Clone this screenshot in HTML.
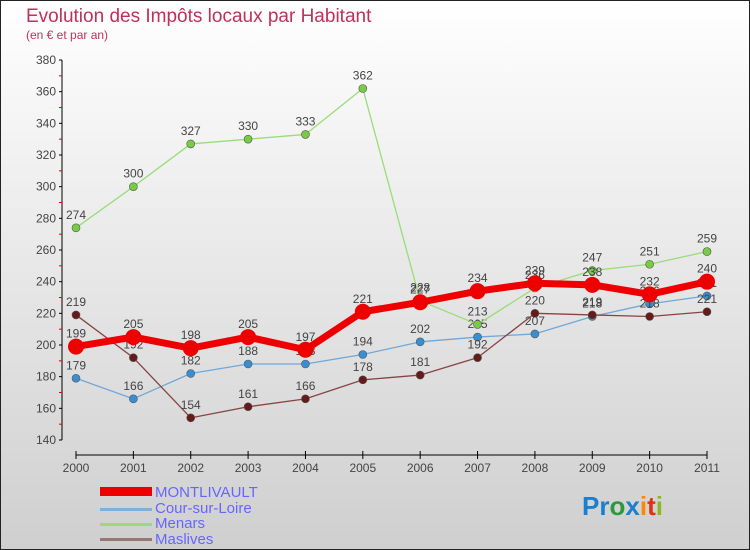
<!DOCTYPE html>
<html><head><meta charset="utf-8"><style>
body{margin:0;width:750px;height:550px;overflow:hidden}
svg{display:block;font-family:"Liberation Sans",sans-serif}
</style></head><body>
<svg id="c" width="750" height="550">
<defs><linearGradient id="bg" x1="0" y1="0" x2="0" y2="1"><stop offset="0" stop-color="#ffffff"/><stop offset="1" stop-color="#cfcfcf"/></linearGradient></defs>
<rect x="0.5" y="0.5" width="749" height="549" fill="url(#bg)" stroke="#222"/>
<text x="26" y="22" font-size="19" fill="#c0305a">Evolution des Impôts locaux par Habitant</text>
<text x="26" y="39" font-size="12" fill="#c0305a">(en € et par an)</text>
<g id="axes"></g><g id="series"></g>
<g>
<rect x="100" y="487" width="52" height="9" fill="#e00"/>
<text x="155" y="497" font-size="15" fill="#6666ff">MONTLIVAULT</text>
<rect x="100" y="508" width="52" height="3" fill="#7fb0d8"/>
<text x="155" y="513" font-size="15" fill="#6666ff">Cour-sur-Loire</text>
<rect x="100" y="523" width="52" height="3" fill="#99dd77"/>
<text x="155" y="528" font-size="15" fill="#6666ff">Menars</text>
<rect x="100" y="538" width="52" height="3" fill="#997777"/>
<text x="155" y="544" font-size="15" fill="#6666ff">Maslives</text>
</g>
<text x="582" y="515" font-size="26" font-weight="bold"><tspan fill="#1a7fd0">Pr</tspan><tspan fill="#2a9a3a">o</tspan><tspan fill="#1a7fd0">x</tspan><tspan fill="#ff8800">i</tspan><tspan fill="#dd3311">t</tspan><tspan fill="#88bb22">i</tspan></text>
</svg>
<script>
const years=[2000,2001,2002,2003,2004,2005,2006,2007,2008,2009,2010,2011];
const yTicks=[140,160,180,200,220,240,260,280,300,320,340,360,380];
const montlivault=[199,205,198,205,197,221,227,234,239,238,232,240];
const cour=[179,166,182,188,188,194,202,205,207,218,226,231];
const menars=[274,300,327,330,333,362,228,213,236,247,251,259];
const maslives=[219,192,154,161,166,178,181,192,220,219,218,221];
const NS="http://www.w3.org/2000/svg";
const X=i=>76+i*(707-76)/11;
const Y=v=>60+(380-v)*(440-60)/240;
function mk(t,a,p){const e=document.createElementNS(NS,t);for(const k in a)e.setAttribute(k,a[k]);p.appendChild(e);return e;}
const ax=document.getElementById('axes');
let e=mk('line',{x1:62,y1:60,x2:62,y2:440,stroke:'#000'},ax);


e=mk('line',{x1:76,y1:455,x2:707,y2:455,stroke:'#000'},ax);


yTicks.forEach((t,i)=>{
  mk('line',{x1:59,y1:Y(t),x2:62,y2:Y(t),stroke:'#000'},ax);
  if(i<yTicks.length-1)mk('line',{x1:59,y1:Y(t+10),x2:62,y2:Y(t+10),stroke:'#d00'},ax);
  const l=mk('text',{x:56,y:Y(t)+4,'font-size':12,fill:'#444','text-anchor':'end'},ax);l.textContent=t;
  
  
});
years.forEach((yr,i)=>{
  mk('line',{x1:X(i),y1:451,x2:X(i),y2:459,stroke:'#000'},ax);
  const l=mk('text',{x:X(i),y:472,'font-size':12,fill:'#444','text-anchor':'middle'},ax);l.textContent=yr;
  
  
});
const sg=document.getElementById('series');
function series(name,data,color,w,r,pf){
  const g=mk('g',{},sg);
  
  
  mk('polyline',{points:data.map((v,i)=>X(i)+','+Y(v)).join(' '),fill:'none',stroke:color,'stroke-width':w,'stroke-linejoin':'round'},g);
  data.forEach((v,i)=>{
    const c=mk('circle',{cx:X(i),cy:Y(v),r:r,fill:pf,stroke:'#555','stroke-width':r>5?0:0.6},g);
    
    
    const t=mk('text',{x:X(i),y:Y(v)-9,'font-size':12,fill:'#444','text-anchor':'middle'},g);t.textContent=v;
    
    
  });
}
series('cour',cour,'#6fa8d8',1.3,4,'#3a8ed0');
series('menars',menars,'#99dd77',1.3,4,'#77cc44');
series('maslives',maslives,'#884444',1.3,4,'#661a1a');
series('montlivault',montlivault,'#ee0000',7,8,'#ee0000');
</script>
</body></html>
